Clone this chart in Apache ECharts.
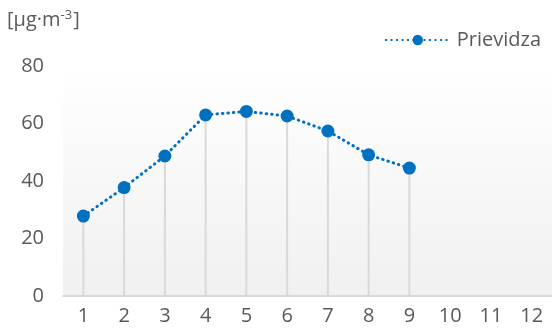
<!DOCTYPE html>
<html>
<head>
<meta charset="utf-8">
<script src="https://cdn.jsdelivr.net/npm/echarts@6/dist/echarts.min.js"></script>
<style>
  html, body { margin: 0; padding: 0; background: #ffffff; }
  #chart { width: 552px; height: 332px; }
</style>
</head>
<body>
<div id="chart"></div>
<script>
// Monthly mean concentration, Prievidza
const months = ['1', '2', '3', '4', '5', '6', '7', '8', '9', '10', '11', '12'];
const prievidza = [27.8, 37.7, 48.7, 63.0, 64.2, 62.6, 57.4, 49.1, 44.5, null, null, null];
const yTicks = [0, 20, 40, 60, 80];
const seriesName = 'Prievidza';

const textColor = '#595959';
const fontFamily = '"Open Sans", "Liberation Sans", sans-serif';

const chart = echarts.init(document.getElementById('chart'));
chart.setOption({
  animation: false,
  textStyle: { fontFamily: fontFamily },
  grid: {
    left: 63, right: -3, top: 66, bottom: 36,
    show: true,
    borderWidth: 0,
    backgroundColor: new echarts.graphic.LinearGradient(0, 0, 0, 1, [
      { offset: 0, color: '#ffffff' },
      { offset: 1, color: '#f0f0f0' }
    ])
  },
  legend: {
    data: [seriesName],
    right: 6, top: 25,
    itemWidth: 64, itemHeight: 13, itemGap: 10,
    textStyle: { color: textColor, fontSize: 20, fontFamily: fontFamily, padding: [0, 0, 0, 2] }
  },
  graphic: [{
    type: 'text',
    left: 7, top: 9,
    style: {
      text: '{b|[μg·m}{s|-3}{b|]}',
      rich: {
        b: { fontSize: 20, fill: textColor, fontFamily: fontFamily },
        s: { fontSize: 13, fill: textColor, fontFamily: fontFamily, verticalAlign: 'top', padding: [0, 1, 9, 0] }
      }
    }
  }],
  xAxis: {
    type: 'category',
    data: months,
    boundaryGap: true,
    axisLine: { lineStyle: { color: '#d9d9d9', width: 2 } },
    axisTick: { show: false },
    axisLabel: { color: textColor, fontSize: 20, margin: 10 },
    splitLine: { show: false }
  },
  yAxis: {
    type: 'value',
    min: yTicks[0], max: yTicks[yTicks.length - 1], interval: 20,
    axisLine: { show: false },
    axisTick: { show: false },
    splitLine: { show: false },
    axisLabel: { color: textColor, fontSize: 20, margin: 19 }
  },
  series: [
    {
      // drop lines from each point to the axis
      name: 'drop',
      type: 'bar',
      data: prievidza,
      barWidth: 2,
      itemStyle: { color: '#d9d9d9' },
      silent: true,
      z: 1
    },
    {
      name: seriesName,
      type: 'line',
      data: prievidza,
      symbol: 'circle',
      symbolSize: 13,
      showSymbol: true,
      smooth: false,
      lineStyle: { color: '#0070c0', width: 3, type: [0.5, 5], cap: 'round' },
      itemStyle: { color: '#0070c0' },
      z: 3
    }
  ]
});
</script>
</body>
</html>
